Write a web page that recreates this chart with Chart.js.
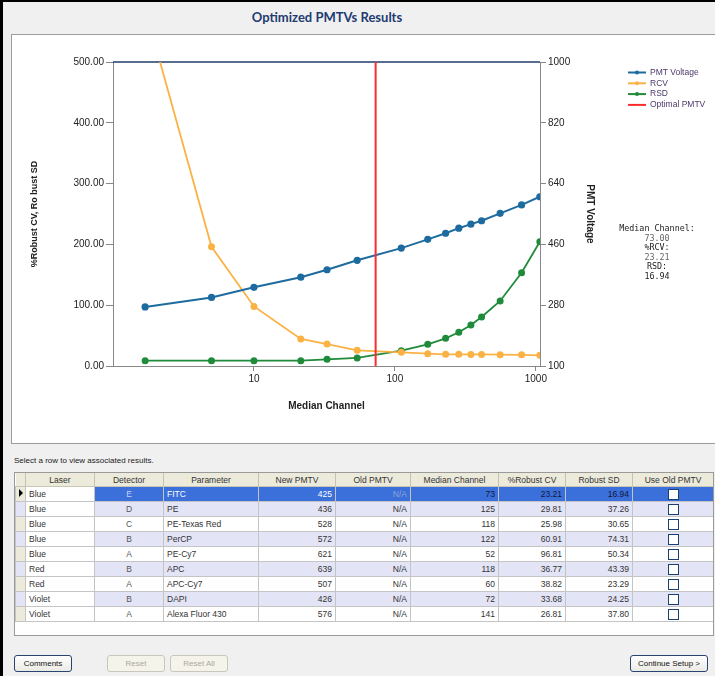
<!DOCTYPE html>
<html>
<head>
<meta charset="utf-8">
<script src="https://cdn.jsdelivr.net/npm/chart.js@4.4.1/dist/chart.umd.min.js"></script>
<style>
  html, body { margin: 0; padding: 0; }
  body { width: 715px; height: 676px; position: relative; overflow: hidden;
         background: #f0f0f0; font-family: "Liberation Sans", Arial, sans-serif; }
  #frameL { position: absolute; left: 0; top: 0; width: 3px; height: 676px; background: #000; }
  #frameT { position: absolute; left: 0; top: 0; width: 715px; height: 2px; background: #000; }
  #title { position: absolute; left: 0; width: 654px; top: 9px; text-align: center;
           font: bold 13px Lato, "Liberation Sans", sans-serif; color: #1f3b70; }
  #panel { position: absolute; left: 11px; top: 34px; width: 720px; height: 410px;
           box-sizing: border-box; background: #fff; border: 1px solid #9c9c9c; }
  #chart { position: absolute; left: 12px; top: 35px; }
  #note { position: absolute; left: 607px; width: 100px; top: 224px; text-align: center;
          font: 8.4px "DejaVu Sans Mono", monospace; line-height: 9.6px; color: #222; }
  #note .v { color: #666; }
  #hint { position: absolute; left: 14px; top: 456px; font-size: 8px; color: #222; }
  #grid { position: absolute; left: 14px; top: 472px; width: 700px; height: 164px;
          box-sizing: border-box; border: 1px solid #9a9a9a; background: #fff; overflow: hidden; }
  #grid table { border-collapse: collapse; table-layout: fixed; width: 698px; font-size: 8.5px; }
  #grid th { height: 13px; padding: 0; background: #ebeadb; font-weight: normal; color: #333;
             border-right: 1px solid #c5c2b2; border-bottom: 1px solid #c9c6b6; }
  #grid td { height: 14px; padding: 0 3px; border: 1px solid #c4c4c4; color: #333;
             white-space: nowrap; overflow: hidden; }
  #grid tr.alt td { background: #e4e4f7; }
  #grid td.ind { background: #ebeadb; padding: 0; }
  #grid tr.sel td.hl { background: #3b6fd9; color: #fff; }
  #grid tr.sel td.hl.dark { color: #10183a; }
  .c { text-align: center; } .r { text-align: right; }
  .na { color: #9a9a9a; }
  .box { display: inline-block; width: 11px; height: 11px; box-sizing: border-box;
         border: 1px solid #1c3f72; background: #fff; vertical-align: middle; }
  .tri { display: inline-block; width: 0; height: 0; border-left: 4px solid #000;
         border-top: 4px solid transparent; border-bottom: 4px solid transparent; margin-left: 3px; }
  .btn { position: absolute; top: 655px; height: 17px; box-sizing: border-box; border: 1px solid #27456f;
         border-radius: 3px; background: linear-gradient(#ffffff, #ebeae4); font-size: 8px; color: #111;
         text-align: center; line-height: 15px; }
  .btn.dis { border-color: #c9c7ba; color: #aca899; background: #f5f4ea; }
</style>
</head>
<body>
<div id="frameL"></div>
<div id="frameT"></div>
<div id="title">Optimized PMTVs Results</div>
<div id="panel"></div>
<canvas id="chart" width="703" height="408"></canvas>
<div id="note"></div>
<div id="hint">Select a row to view associated results.</div>
<div id="grid"></div>
<div class="btn" style="left:14px;width:58px">Comments</div>
<div class="btn dis" style="left:107px;width:58px">Reset</div>
<div class="btn dis" style="left:170px;width:58px">Reset All</div>
<div class="btn" style="left:630px;width:78px">Continue Setup &gt;</div>

<script>
// ----- Chart data -----
const channels   = [1.69, 5.0, 10, 21.5, 33, 54, 111, 171, 229, 284, 346, 412, 558, 792, 1067];
const pmtVoltage = [275, 303, 333, 363, 385, 413, 449, 475, 493, 508, 520, 530, 552, 577, 601];
const rcv        = [588, 196, 98, 44.4, 36, 25.8, 22.5, 20.3, 19.2, 19.2, 19, 19, 18.7, 18.4, 17.5];
const rsd        = [8.7, 8.7, 8.7, 8.7, 11, 13.2, 25.2, 35.7, 45.5, 55.4, 67.4, 80.6, 107, 153.5, 204.4];
const optimalChannel = 73;
const xTicks = [10, 100, 1000];

// ----- Table data -----
const columns   = ["Laser", "Detector", "Parameter", "New PMTV", "Old PMTV", "Median Channel", "%Robust CV", "Robust SD", "Use Old PMTV"];
const colWidths = [10, 69, 69, 95, 77, 75, 88, 67, 67, 81];
const lasers    = ["Blue", "Blue", "Blue", "Blue", "Blue", "Red", "Red", "Violet", "Violet"];
const detectors = ["E", "D", "C", "B", "A", "B", "A", "B", "A"];
const params    = ["FITC", "PE", "PE-Texas Red", "PerCP", "PE-Cy7", "APC", "APC-Cy7", "DAPI", "Alexa Fluor 430"];
const newPmtv   = [425, 436, 528, 572, 621, 639, 507, 426, 576];
const medianCh  = [73, 125, 118, 122, 52, 118, 60, 72, 141];
const robustCv  = [23.21, 29.81, 25.98, 60.91, 96.81, 36.77, 38.82, 33.68, 26.81];
const robustSd  = [16.94, 37.26, 30.65, 74.31, 50.34, 43.39, 23.29, 24.25, 37.80];

const FONT = "'Liberation Sans', Arial, sans-serif";
const pts = (ys) => channels.map((c, i) => ({ x: c, y: ys[i] }));

// navy rule along the top of the plot
const topRule = {
  id: "topRule",
  beforeDatasetsDraw(chart) {
    const { ctx, chartArea: a } = chart;
    ctx.save();
    ctx.strokeStyle = "#203c6c"; ctx.lineWidth = 1.5;
    ctx.beginPath(); ctx.moveTo(a.left, a.top); ctx.lineTo(a.right, a.top); ctx.stroke();
    ctx.restore();
  }
};

// legend in the right margin
const sideLegend = {
  id: "sideLegend",
  afterDraw(chart) {
    const { ctx, chartArea: a } = chart;
    const x0 = a.right + 88;
    ctx.save();
    ctx.font = "8.5px " + FONT;
    ctx.textBaseline = "middle";
    chart.data.datasets.forEach((ds, i) => {
      const y = a.top + 10.5 + i * 10.8;
      ctx.strokeStyle = ds.borderColor; ctx.lineWidth = 2;
      ctx.beginPath(); ctx.moveTo(x0, y); ctx.lineTo(x0 + 18, y); ctx.stroke();
      if (ds.pointRadius) {
        ctx.fillStyle = ds.borderColor;
        ctx.beginPath(); ctx.arc(x0 + 9, y, 2, 0, Math.PI * 2); ctx.fill();
      }
      ctx.fillStyle = "#4a3868";
      ctx.fillText(ds.label, x0 + 22, y);
    });
    ctx.restore();
  }
};

new Chart(document.getElementById("chart"), {
  type: "line",
  data: {
    datasets: [
      { label: "PMT Voltage", data: pts(pmtVoltage), yAxisID: "y1", borderColor: "#1d6b9f",
        backgroundColor: "#1d6b9f", borderWidth: 2, pointRadius: 2.6, order: 1 },
      { label: "RCV", data: pts(rcv), yAxisID: "y", borderColor: "#fbb244",
        backgroundColor: "#fbb244", borderWidth: 1.8, pointRadius: 2.6, order: 1 },
      { label: "RSD", data: pts(rsd), yAxisID: "y", borderColor: "#1f8b3b",
        backgroundColor: "#1f8b3b", borderWidth: 1.8, pointRadius: 2.6, order: 1 },
      { label: "Optimal PMTV", data: [{ x: optimalChannel, y: 0 }, { x: optimalChannel, y: 500 }],
        yAxisID: "y", borderColor: "#ff2b2b", backgroundColor: "#ff2b2b", borderWidth: 2,
        pointRadius: 0, order: 0 },
    ],
  },
  options: {
    responsive: false, animation: false, devicePixelRatio: 1,
    layout: { padding: { left: 17, top: 27, right: 119, bottom: 31 } },
    plugins: { legend: { display: false }, tooltip: { enabled: false } },
    scales: {
      x: {
        type: "logarithmic", position: "bottom", min: 1, max: 1070,
        afterBuildTicks: (s) => { s.ticks = xTicks.map(v => ({ value: v })); },
        afterFit: (s) => { s.height = 46; },
        ticks: { font: { family: FONT, size: 10 }, color: "#222", padding: 2,
                 maxRotation: 0, autoSkip: false, callback: (v) => String(v) },
        grid: { drawOnChartArea: false, tickLength: 5, color: "#888" },
        border: { color: "#888" },
        title: { display: true, text: "Median Channel", color: "#222", padding: 0,
                 font: { family: FONT, size: 10, weight: "bold" } },
      },
      y: {
        position: "left", min: 0, max: 500,
        afterFit: (s) => { s.width = 84; },
        ticks: { stepSize: 100, font: { family: FONT, size: 10 }, color: "#222", padding: 2,
                 callback: (v) => v.toFixed(2) },
        grid: { drawOnChartArea: false, tickLength: 7, color: "#888" },
        border: { color: "#888" },
        title: { display: true, text: "%Robust CV, Ro bust SD", color: "#222", padding: 0,
                 font: { family: FONT, size: 9, weight: "bold" } },
      },
      y1: {
        position: "right", min: 100, max: 1000,
        afterFit: (s) => { s.width = 56; },
        ticks: { stepSize: 180, font: { family: FONT, size: 10 }, color: "#222", padding: 2,
                 callback: (v) => String(v) },
        grid: { drawOnChartArea: false, tickLength: 6, color: "#888" },
        border: { color: "#888" },
        title: { display: true, text: "PMT Voltage", color: "#222", padding: 0,
                 font: { family: FONT, size: 10, weight: "bold" } },
      },
    },
  },
  plugins: [topRule, sideLegend],
});

// ----- Readout for the selected row -----
document.getElementById("note").innerHTML =
  `Median Channel:<br><span class="v">${medianCh[0].toFixed(2)}</span><br>%RCV:<br>` +
  `<span class="v">${robustCv[0].toFixed(2)}</span><br>RSD:<br>${robustSd[0].toFixed(2)}`;

// ----- Results grid -----
let html = "<table><colgroup>" + colWidths.map(w => `<col style="width:${w}px">`).join("") + "</colgroup>";
html += "<tr><th></th>" + columns.map(c => `<th>${c}</th>`).join("") + "</tr>";
lasers.forEach((laser, i) => {
  const sel = i === 0;
  const hl = sel ? " hl" : "";
  html += `<tr class="${i % 2 ? "alt" : ""}${sel ? " sel" : ""}">` +
    `<td class="ind">${sel ? '<span class="tri"></span>' : ""}</td>` +
    `<td style="background:#fff">${laser}</td>` +
    `<td class="c${hl}" style="color:${sel ? "#c9d3ef" : "#555"}">${detectors[i]}</td>` +
    `<td class="${hl}">${params[i]}</td>` +
    `<td class="r${hl}">${newPmtv[i]}</td>` +
    `<td class="r na${hl}" ${sel ? 'style="color:#8fa3d8"' : ""}>N/A</td>` +
    `<td class="r${hl} dark">${medianCh[i]}</td>` +
    `<td class="r${hl} dark">${robustCv[i].toFixed(2)}</td>` +
    `<td class="r${hl} dark">${robustSd[i].toFixed(2)}</td>` +
    `<td class="c${hl}"><span class="box"></span></td></tr>`;
});
html += "</table>";
document.getElementById("grid").innerHTML = html;
</script>
</body>
</html>
